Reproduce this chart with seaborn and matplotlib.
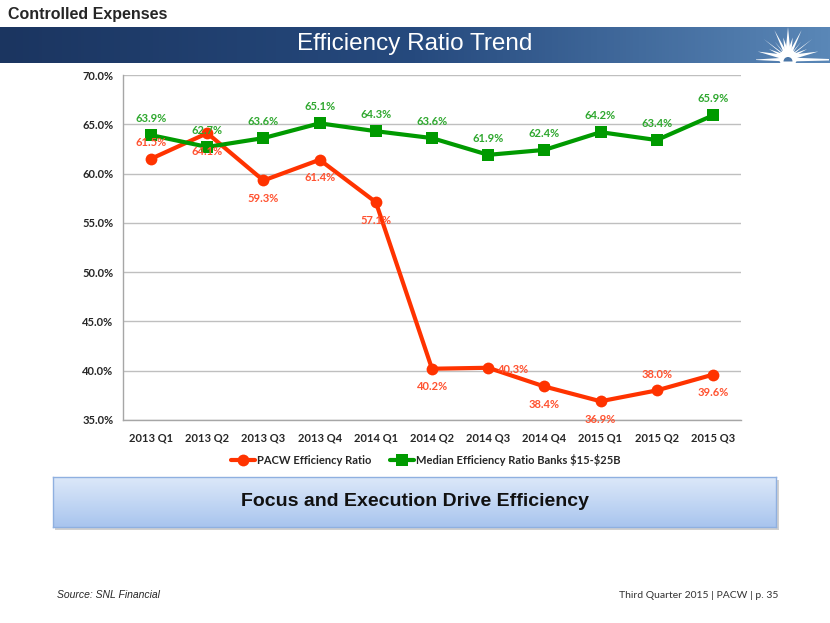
import numpy as np
import pandas as pd
import matplotlib
matplotlib.use("Agg")
import matplotlib.pyplot as plt
from matplotlib.colors import LinearSegmentedColormap
from matplotlib.patches import Wedge
import seaborn as sns

# chart values
quarters = ["2013 Q1", "2013 Q2", "2013 Q3", "2013 Q4", "2014 Q1", "2014 Q2",
            "2014 Q3", "2014 Q4", "2015 Q1", "2015 Q2", "2015 Q3"]
pacw_ratio = [61.5, 64.1, 59.3, 61.4, 57.1, 40.2, 40.3, 38.4, 36.9, 38.0, 39.6]
median_ratio = [63.9, 62.7, 63.6, 65.1, 64.3, 63.6, 61.9, 62.4, 64.2, 63.4, 65.9]
series_names = ["PACW Efficiency Ratio", "Median Efficiency Ratio Banks \\$15-\\$25B"]

# where each PACW label sits relative to its point
pacw_label_pos = ["above", "below", "below", "below", "below", "below",
                  "right", "below", "below", "above", "below"]

RED = "#ff3300"
RED_TXT = "#ff5230"
GREEN = "#009a00"
GREEN_TXT = "#2fa82f"

sns.set_theme(style="white")
plt.rcParams["font.family"] = ["Lato", "DejaVu Sans"]

df = pd.DataFrame({
    "pos": list(range(len(quarters))) * 2,
    "value": pacw_ratio + median_ratio,
    "series": [series_names[0]] * len(quarters) + [series_names[1]] * len(quarters),
})

fig = plt.figure(figsize=(8.3, 6.23), dpi=100)
W, H = 830, 623

def px_axes(x0, y0, x1, y1, **kw):
    return fig.add_axes([x0 / W, 1 - y1 / H, (x1 - x0) / W, (y1 - y0) / H], **kw)

# --- header banner (drawn in pixel coords) ---
ax_ban = px_axes(0, 27, 830, 63)
grad = np.linspace(0, 1, 256).reshape(1, -1)
ban_cmap = LinearSegmentedColormap.from_list("ban", ["#1b3560", "#264a7e", "#5a87b7"])
ax_ban.imshow(grad, aspect="auto", cmap=ban_cmap, extent=[0, 830, 63, 27])
ax_ban.set_xlim(0, 830)
ax_ban.set_ylim(63, 27)
# sunburst logo
cx, cy = 788, 58
for k, ang in enumerate(np.linspace(12, 168, 13)):
    a = np.deg2rad(ang)
    ln = 31 if k % 2 == 0 else 21
    tip = (cx + np.cos(a) * ln, cy - np.sin(a) * ln)
    pa = a + np.pi / 2
    w = 3.0
    ax_ban.fill([cx + np.cos(pa) * w, tip[0], cx - np.cos(pa) * w],
                [cy + np.sin(pa) * w, tip[1], cy - np.sin(pa) * w], color="white", lw=0)
ax_ban.add_patch(Wedge((cx, cy), 9, 0, 360, color="white", lw=0))
ax_ban.fill([756, 788, 829, 829, 788, 756], [59.5, 57.5, 59, 60.5, 61.5, 60], color="white", lw=0)
ax_ban.add_patch(Wedge((cx, 61.5), 4.5, 180, 360, color="#4a76a7", lw=0))
ax_ban.text(415, 44, "Efficiency Ratio Trend", color="white", ha="center", va="center",
            fontsize=17.5, family=["Liberation Sans", "DejaVu Sans"])
ax_ban.axis("off")

fig.text(8 / W, 1 - 15 / H, "Controlled Expenses", fontsize=11.5, fontweight="bold",
         ha="left", va="center", family=["Liberation Sans", "DejaVu Sans"])

# --- main chart ---
ax = px_axes(123, 75, 741, 420)
sns.lineplot(data=df, x="pos", y="value", hue="series", style="series",
             palette={series_names[0]: RED, series_names[1]: GREEN},
             markers={series_names[0]: "o", series_names[1]: "s"}, dashes=False,
             linewidth=3, markersize=8.5, markeredgewidth=0, ax=ax)

ax.set_xlim(-0.5, len(quarters) - 0.5)
ax.set_ylim(35, 70)
ax.set_yticks(np.arange(35, 70.1, 5))
ax.set_yticklabels([f"{v:.1f}%" for v in np.arange(35, 70.1, 5)])
ax.set_xticks(range(len(quarters)))
ax.set_xticklabels(quarters)
ax.set_xticks(np.arange(-0.5, len(quarters), 1), minor=True)
ax.tick_params(axis="x", which="major", length=0, pad=9, labelsize=8)
ax.tick_params(axis="x", which="minor", length=4, color="#a6a6a6", direction="out")
ax.tick_params(axis="y", length=4, color="#a6a6a6", direction="out", labelsize=8, pad=3)
for lab in ax.get_xticklabels() + ax.get_yticklabels():
    lab.set_fontweight("bold")
    lab.set_color("#262626")
ax.set_xlabel("")
ax.set_ylabel("")
ax.grid(axis="y", color="#bfbfbf", lw=1)
ax.set_axisbelow(True)
for s in ["top", "right"]:
    ax.spines[s].set_visible(False)
for s in ["left", "bottom"]:
    ax.spines[s].set_color("#a6a6a6")
    ax.spines[s].set_linewidth(1)

# data labels
for i, v in enumerate(median_ratio):
    ax.annotate(f"{v:.1f}%", (i, v), xytext=(0, 12), textcoords="offset points",
                ha="center", va="center", fontsize=8, fontweight="bold", color=GREEN_TXT)
offsets = {"above": (0, 11.5), "below": (0, -13), "right": (18, -1.5)}
for i, v in enumerate(pacw_ratio):
    ax.annotate(f"{v:.1f}%", (i, v), xytext=offsets[pacw_label_pos[i]], textcoords="offset points",
                ha="center", va="center", fontsize=8, fontweight="bold", color=RED_TXT)

handles, labels = ax.get_legend_handles_labels()
ax.legend(handles, labels, loc="center", bbox_to_anchor=(0.49, -0.115), ncol=2,
          frameon=False, handlelength=2.2, columnspacing=1.6, handletextpad=0.2,
          prop={"weight": "bold", "size": 8})
for t in ax.get_legend().get_texts():
    t.set_color("#262626")

# --- callout box ---
ax_shadow = px_axes(55, 480, 779, 530)
ax_shadow.set_facecolor("#d0d0d0")
ax_shadow.set_xticks([])
ax_shadow.set_yticks([])
for s in ax_shadow.spines.values():
    s.set_visible(False)
ax_box = px_axes(53, 477, 776, 527)
vgrad = np.linspace(0, 1, 256).reshape(-1, 1)
box_cmap = LinearSegmentedColormap.from_list("box", ["#dde9f9", "#c3d7f4", "#a8c4ee"])
ax_box.imshow(vgrad, aspect="auto", cmap=box_cmap, extent=[0, 1, 0, 1], origin="upper")
ax_box.set_xticks([])
ax_box.set_yticks([])
for s in ax_box.spines.values():
    s.set_color("#8fb0e0")
    s.set_linewidth(1)
ax_box.text(0.5, 0.5, "Focus and Execution Drive Efficiency", ha="center", va="center",
            fontsize=14, fontweight="bold", color="#111111",
            family=["Liberation Sans", "DejaVu Sans"])

# --- footer ---
fig.text(57 / W, 1 - 595 / H, "Source: SNL Financial", fontsize=7.5, style="italic",
         ha="left", va="center", family=["Liberation Sans", "DejaVu Sans"])
fig.text(778 / W, 1 - 596 / H, "Third Quarter 2015 | PACW | p. 35", fontsize=7.5,
         ha="right", va="center", color="#333333")

fig.savefig("out.png", dpi=100)
